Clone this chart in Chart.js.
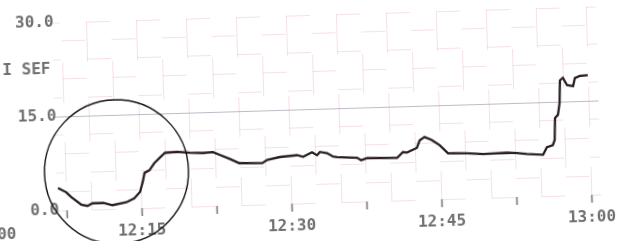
<!DOCTYPE html>
<html>
<head>
<meta charset="utf-8">
<script src="https://cdn.jsdelivr.net/npm/chart.js@4.4.0/dist/chart.umd.min.js"></script>
<style>
  body { margin: 0; overflow: hidden; background: #fff; }
  #wrap { position: relative; width: 624px; height: 241px; transform: rotate(-1.7deg); }
  #trend { position: absolute; left: -40px; top: 0; }
</style>
</head>
<body>
<div id="wrap"><canvas id="trend" width="680" height="241"></canvas></div>
<script>
// minutes after 12:00
const times = [6.7, 7.5, 8.0, 9.0, 9.6, 10.1, 11.2, 12.1, 13.5, 14.3,
  14.9, 15.2, 15.4, 15.9, 16.4, 17.0, 17.5, 18.7, 20.0, 21.3,
  22.3, 23.0, 24.0, 24.9, 27.2, 27.7, 29.0, 30.7, 31.3, 32.2,
  32.7, 33.0, 33.7, 34.3, 34.7, 36.7, 37.1, 37.7, 40.7, 41.3,
  41.7, 42.7, 43.0, 43.5, 44.2, 45.0, 45.8, 47.7, 49.3, 51.7,
  52.7, 53.7, 55.3, 55.7, 56.3, 56.5, 56.6, 56.9, 57.1, 57.2,
  57.5, 57.9, 58.5, 58.7, 59.2, 60.0];
const sef = [3.6, 2.9, 2.1, 0.8, 0.6, 1.0, 1.0, 0.6, 1.0, 1.6,
  2.6, 4.2, 5.6, 6.0, 7.1, 8.0, 8.7, 8.8, 8.6, 8.5,
  8.6, 8.1, 7.4, 6.7, 6.6, 7.1, 7.5, 7.7, 7.4, 8.1,
  7.6, 8.1, 7.9, 7.3, 7.2, 7.0, 6.6, 6.9, 6.8, 7.7,
  7.6, 8.3, 9.5, 10.0, 9.5, 8.6, 7.3, 7.2, 7.0, 7.1,
  7.0, 6.8, 6.6, 7.8, 8.1, 8.9, 12.4, 12.9, 14.8, 18.4,
  18.8, 17.6, 17.4, 18.7, 19.0, 19.1];

const xTickValues = [0, 15, 30, 45, 60];
const xTickLabels = ["12:00", "12:15", "12:30", "12:45", "13:00"];
const yTickValues = [0, 15, 30];
const yTickLabels = ["0.0", "15.0", "30.0"];
const yTitle = "I SEF";

// hand drawn ring on the paper, in data units
const ringCentre = { x: 12.6, y: 5.9 };
const ringRadius = 7.2;
// the printed grid only starts here (minutes)
const gridStart = 6.6;

const inkGrey = "#707070";
const gridPink = "rgba(228, 160, 185, 0.32)";
const printFont = { family: "'DejaVu Sans Mono', monospace", size: 16, weight: "bold" };

const paperMarks = {
  id: "paperMarks",
  beforeDatasetsDraw(chart) {
    // blank margin left of the printed grid, where the y labels sit
    const { ctx, scales: { x }, chartArea } = chart;
    ctx.save();
    ctx.fillStyle = "#fff";
    ctx.fillRect(chartArea.left - 1, chartArea.top - 2,
      x.getPixelForValue(gridStart) - chartArea.left + 1, chartArea.height + 3);
    ctx.restore();
  },
  afterDraw(chart) {
    const { ctx, scales: { x, y }, chartArea } = chart;
    ctx.save();
    ctx.fillStyle = inkGrey;
    ctx.font = "bold 16px 'DejaVu Sans Mono', monospace";
    ctx.textAlign = "left";
    ctx.textBaseline = "middle";
    ctx.fillText(yTitle, chartArea.left + 15, y.getPixelForValue(22.5));

    const cx = x.getPixelForValue(ringCentre.x);
    const cy = y.getPixelForValue(ringCentre.y);
    const r = x.getPixelForValue(ringCentre.x + ringRadius) - cx;
    ctx.beginPath();
    ctx.arc(cx, cy, r, 0, Math.PI * 2);
    ctx.strokeStyle = "#111";
    ctx.lineWidth = 1.4;
    ctx.stroke();
    ctx.restore();
  }
};

new Chart(document.getElementById("trend"), {
  type: "line",
  data: {
    datasets: [{
      data: times.map((t, i) => ({ x: t, y: sef[i] })),
      borderColor: "#2a1f22",
      borderWidth: 2.3,
      pointRadius: 0,
      tension: 0
    }]
  },
  options: {
    responsive: false,
    animation: false,
    devicePixelRatio: 1,
    layout: { padding: { left: 29, right: 41, top: 15, bottom: 0 } },
    plugins: { legend: { display: false }, tooltip: { enabled: false } },
    scales: {
      x: {
        type: "linear",
        min: 0,
        max: 61,
        afterBuildTicks: (scale) => {
          const ticks = [];
          for (let m = 0; m <= 60; m += 2.5) ticks.push({ value: m });
          scale.ticks = ticks;
        },
        afterFit: (scale) => { scale.height = 38; },
        ticks: {
          autoSkip: false,
          maxRotation: 0,
          padding: 5,
          color: inkGrey,
          font: printFont,
          callback: (v) => {
            const i = xTickValues.indexOf(v);
            return i >= 0 ? xTickLabels[i] : "";
          }
        },
        grid: {
          color: gridPink,
          lineWidth: 1,
          tickLength: 8,
          tickWidth: 1.5,
          tickColor: (ctx) => (ctx.tick && ctx.tick.value % 7.5 === 0) ? inkGrey : "rgba(0,0,0,0)"
        },
        border: {
          display: false,
          dash: [40, 40],
          dashOffset: (ctx) => (ctx.index % 2) * 40
        }
      },
      y: {
        min: 0,
        max: 30,
        afterBuildTicks: (scale) => {
          const ticks = [];
          for (let v = 0; v <= 30; v += 3) ticks.push({ value: v });
          scale.ticks = ticks;
        },
        afterFit: (scale) => {
          scale.width = 0;
          scale.paddingTop = 0;
          scale.paddingBottom = 0;
        },
        ticks: {
          z: 1,
          autoSkip: false,
          mirror: true,
          crossAlign: "far",
          padding: 29,
          color: inkGrey,
          font: printFont,
          callback: (v) => {
            const i = yTickValues.indexOf(v);
            return i >= 0 ? yTickLabels[i] : "";
          }
        },
        grid: {
          drawTicks: false,
          color: (ctx) => ctx.tick && ctx.tick.value === 15 ? "rgba(150, 140, 160, 0.6)" : gridPink,
          lineWidth: 1
        },
        border: {
          display: false,
          dash: (ctx) => ctx.tick && ctx.tick.value === 15 ? [] : [24, 26],
          dashOffset: (ctx) => (ctx.index % 2) * 25
        }
      }
    }
  },
  plugins: [paperMarks]
});
</script>
</body>
</html>
